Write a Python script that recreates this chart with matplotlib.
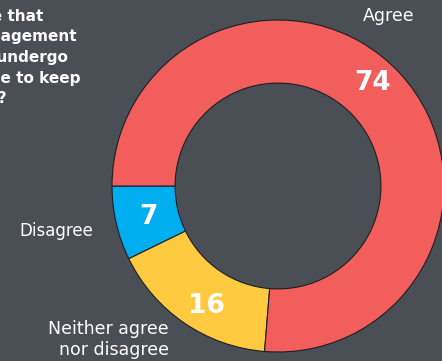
import matplotlib
matplotlib.use("Agg")
import matplotlib.pyplot as plt

# Daten (Reihenfolge gegen den Uhrzeigersinn ab 180 Grad)
labels = ["Disagree", "Neither agree\nnor disagree", "Agree"]
werte = [7, 16, 74]
farben = ["#00AEEF", "#FFC940", "#F25E5B"]

# Titel (links abgeschnitten im Original)
titel_zeilen = ["Do you agree that", "senior management", "will need to undergo",
                "major change to keep", "up?"]

bg = "#4A4E55"
W, H = 442, 361

fig = plt.figure(figsize=(W / 100, H / 100), dpi=100, facecolor=bg)

def px(x, y):
    return x / W, 1 - y / H

# Donut: Mittelpunkt (278,186), Radius 166 px
cx, cy, R = 278, 186, 166
ax = fig.add_axes([(cx - R) / W, (H - cy - R) / H, 2 * R / W, 2 * R / H])
ax.set_facecolor(bg)
wedges, _ = ax.pie(werte, colors=farben, startangle=180, counterclock=True,
                   radius=1, wedgeprops=dict(width=0.38, edgecolor="#1E1F22", linewidth=0.8))
for w in wedges:
    w.set_clip_on(False)
ax.set_xlim(-1, 1)
ax.set_ylim(-1, 1)
ax.set_aspect("equal")
ax.axis("off")

# Zahlen in den Segmenten
zahl_pos = [(148, 217), (206, 306), (373, 83)]
for v, (x, y) in zip(werte, zahl_pos):
    fig.text(*px(x, y), str(v), color="white", fontsize=19, fontweight="bold",
             ha="center", va="center", family="DejaVu Sans")

# Beschriftungen
fig.text(*px(389, 21), labels[2], color="white", fontsize=12.5, ha="center", va="baseline")
fig.text(*px(93, 236), labels[0], color="white", fontsize=12, ha="right", va="baseline")
fig.text(*px(169, 355), labels[1], color="white", fontsize=12.5, ha="right", va="baseline",
         multialignment="right", linespacing=1.2)

# Titel: jede Zeile am rechten Ende ausgerichtet
enden = [43, 77, 68, 81, 7]
basis = [21, 41, 62, 83, 103]
for t, x, y in zip(titel_zeilen, enden, basis):
    fig.text(*px(x, y), t, color="white", fontsize=11, fontweight="bold",
             ha="right", va="baseline")

fig.savefig("out.png", dpi=100, facecolor=bg)
